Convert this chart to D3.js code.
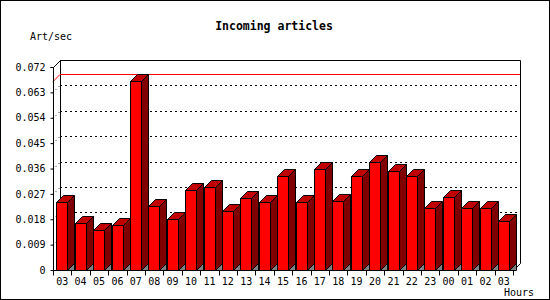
<!DOCTYPE html>
<html>
<head>
<meta charset="utf-8">
<script src="https://cdn.jsdelivr.net/npm/d3@7"></script>
<style>
  body { margin: 0; background: #fff; }
  svg { display: block; }
  text { font-family: "DejaVu Sans Mono", monospace; font-size: 10px; fill: #000; }
</style>
</head>
<body>
<svg id="chart" width="550" height="300"></svg>
<script>
// hourly incoming article rate
let hours = ["03","04","05","06","07","08","09","10","11","12","13","14","15","16",
             "17","18","19","20","21","22","23","00","01","02","03b"];
let rates = [0.0240, 0.0166, 0.0141, 0.0158, 0.0669, 0.0226, 0.0180, 0.0282, 0.0296, 0.0211,
             0.0256, 0.0240, 0.0332, 0.0240, 0.0360, 0.0243, 0.0334, 0.0382, 0.0352, 0.0333,
             0.0219, 0.0258, 0.0219, 0.0219, 0.0173];
let yTicks = [0, 0.009, 0.018, 0.027, 0.036, 0.045, 0.054, 0.063, 0.072];

let depth = 7;   // 3d offset
let barW = 11;

let svg = d3.select("#chart");

// outer frame
svg.append("rect")
  .attr("x", 0.5).attr("y", 0.5)
  .attr("width", 549).attr("height", 299)
  .attr("fill", "#fff").attr("stroke", "#000");

let y = d3.scaleLinear().domain([0, 0.072]).range([270, 67]);
let x = d3.scaleBand().domain(hours).range([53, 513]).padding(0);

let x0 = 53, x1 = 513, yb = 270, yt = 67;

// back wall + side outline
let g = svg.append("g").attr("shape-rendering", "crispEdges");

// dotted grid on back wall and left side wall
yTicks.slice(1, -1).forEach(t => {
  let yy = Math.round(y(t)) + 0.5;
  g.append("line")
    .attr("x1", x0 + depth).attr("x2", x1 + depth)
    .attr("y1", yy - depth).attr("y2", yy - depth)
    .attr("stroke", "#000").attr("stroke-dasharray", "2,3");
  svg.append("line")
    .attr("x1", x0).attr("x2", x0 + depth)
    .attr("y1", yy).attr("y2", yy - depth)
    .attr("stroke", "#000").attr("stroke-dasharray", "1,3");
});

// walls
svg.append("path")
  .attr("d", `M${x0 + 0.5},${yt + 0.5} L${x0 + depth + 0.5},${yt - depth + 0.5} L${x1 + depth + 0.5},${yt - depth + 0.5} L${x1 + depth + 0.5},${yb - depth + 0.5} L${x1 + 0.5},${yb + 0.5}`)
  .attr("fill", "none").attr("stroke", "#000");
g.append("line")
  .attr("x1", x0 + depth + 0.5).attr("x2", x0 + depth + 0.5)
  .attr("y1", yt - depth).attr("y2", yb - depth)
  .attr("stroke", "#000");

// max line
let maxY = Math.round(y(d3.max(rates))) + 0.5;
svg.append("path")
  .attr("d", `M${x0},${maxY} L${x0 + depth},${maxY - depth} L${x1 + depth},${maxY - depth}`)
  .attr("fill", "none").attr("stroke", "#ff0000");

// bars
let bars = svg.append("g").attr("stroke", "#000").attr("stroke-width", 1);
hours.forEach((h, i) => {
  let bx = Math.round(x(h) + 3.4) + 0.5;
  let by = Math.round(y(rates[i])) + 0.5;
  let base = yb + 0.5;
  let r = bx + barW;
  bars.append("path")
    .attr("d", `M${r},${base} L${r + depth},${base - depth} L${r + depth},${base} Z`)
    .attr("fill", "#808080");
  bars.append("path")
    .attr("d", `M${r},${by} L${r + depth},${by - depth} L${r + depth},${base - depth} L${r},${base} Z`)
    .attr("fill", "#800000");
  bars.append("path")
    .attr("d", `M${bx},${by} L${bx + depth},${by - depth} L${r + depth},${by - depth} L${r},${by} Z`)
    .attr("fill", "#c00000");
  bars.append("rect")
    .attr("x", bx).attr("y", by)
    .attr("width", barW).attr("height", base - by)
    .attr("fill", "#ff0000");
});

// axes
let yAxis = d3.axisLeft(y).tickValues(yTicks).tickSize(3).tickPadding(5)
  .tickFormat(d => d === 0 ? "0" : d3.format(".3f")(d));
svg.append("g")
  .attr("transform", `translate(${x0 + 0.5},0)`)
  .call(yAxis)
  .call(a => a.select(".domain").attr("d", `M-3,${yt + 0.5}H0V${yb + 0.5}`))
  .call(a => a.selectAll("text").style("font-family", "DejaVu Sans Mono").style("font-size", "10px"));

let xAxis = d3.axisBottom(x).tickSize(5).tickPadding(2).tickFormat(d => d.slice(0, 2));
let xa = svg.append("g")
  .attr("transform", `translate(0,${yb + 0.5})`)
  .call(xAxis);
xa.select(".domain").attr("d", `M${x0 + 0.5},0H${x1 + 0.5}`);
xa.selectAll(".tick line").remove();
xa.selectAll("text").style("font-family", "DejaVu Sans Mono").style("font-size", "10px");
// ticks sit on band boundaries
xa.selectAll(".bnd")
  .data(d3.range(hours.length + 1))
  .join("line")
  .attr("x1", i => Math.round(x0 + i * x.bandwidth()) + 0.5)
  .attr("x2", i => Math.round(x0 + i * x.bandwidth()) + 0.5)
  .attr("y1", 0).attr("y2", 5)
  .attr("stroke", "#000");

// labels
svg.append("text")
  .attr("x", 274).attr("y", 30)
  .attr("text-anchor", "middle")
  .style("font-weight", "bold").style("font-size", "11.5px")
  .text("Incoming articles");
svg.append("text").attr("x", 30).attr("y", 40).text("Art/sec");
svg.append("text").attr("x", 504).attr("y", 296).text("Hours");
</script>
</body>
</html>
